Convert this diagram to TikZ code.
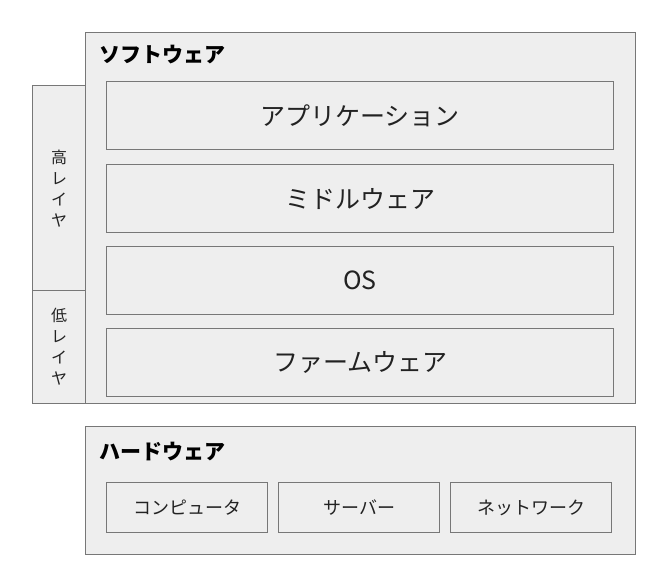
\documentclass[tikz,border=0pt]{standalone}
\usepackage{fontspec}
\setmainfont{Noto Sans CJK JP}
\definecolor{boxfill}{HTML}{EEEEEE}
\definecolor{boxline}{HTML}{777777}
\definecolor{textgray}{HTML}{222222}

\begin{document}
\begin{tikzpicture}[x=1pt, y=-1pt, line width=1.3pt,
  panel/.style={draw=boxline, fill=boxfill, anchor=north west, inner sep=0pt},
  side/.style={panel, minimum width=53pt, align=center, text=textgray,
    font=\fontsize{16}{21}\selectfont},
  layer/.style={panel, minimum width=507pt, minimum height=68pt, text=textgray,
    font=\fontsize{25}{28}\selectfont},
  hwbox/.style={panel, minimum width=161pt, minimum height=50pt, text=textgray,
    font=\fontsize{18}{21}\selectfont},
  title/.style={anchor=west, inner sep=0pt, font=\fontsize{21}{24}\selectfont\bfseries}]
  \useasboundingbox (0,0) rectangle (660,582);

  % レイヤ区分（左の列）
  \node[side, minimum height=205pt] (high) at (32,85) {高\\レ\\イ\\ヤ};
  \node[side, minimum height=113pt] (low) at (32,290) {低\\レ\\イ\\ヤ};

  % ソフトウェア
  \node[panel, minimum width=550pt, minimum height=371pt] (sw) at (85,32) {};
  \node[title] (swtitle) at (99,55) {ソフトウェア};
  \node[layer] (app) at (106,81) {アプリケーション};
  \node[layer] (mid) at (106,164) {ミドルウェア};
  \node[layer] (os) at (106,246) {OS};
  \node[layer] (fw) at (106,328) {ファームウェア};

  % ハードウェア
  \node[panel, minimum width=550pt, minimum height=128pt] (hw) at (85,426) {};
  \node[title] (hwtitle) at (99,452) {ハードウェア};
  \node[hwbox] (pc) at (106,482) {コンピュータ};
  \node[hwbox] (server) at (278,482) {サーバー};
  \node[hwbox] (net) at (450,482) {ネットワーク};
\end{tikzpicture}
\end{document}
